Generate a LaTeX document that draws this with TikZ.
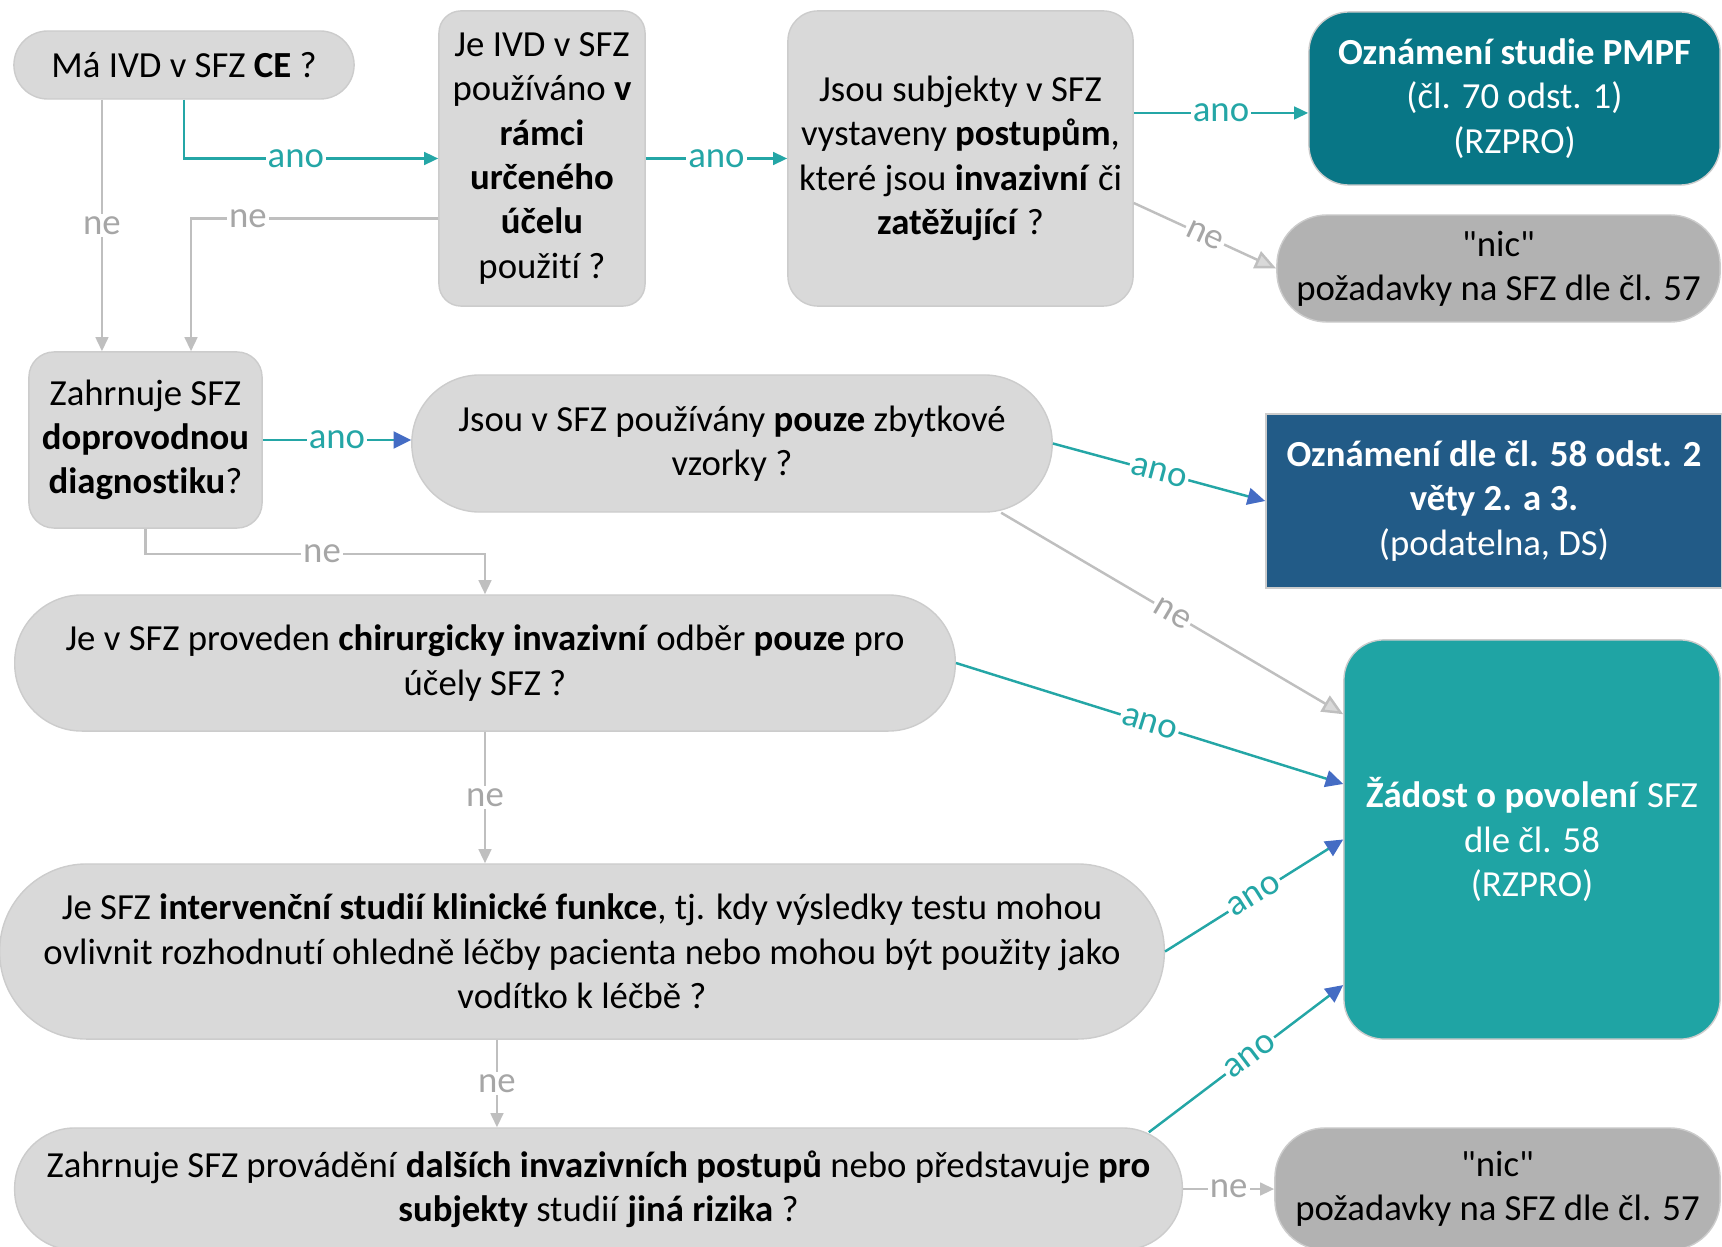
\documentclass[tikz,border=0pt]{standalone}
\usepackage{fontspec}
\setmainfont{Carlito}[Ligatures={TeXOff,NoCommon}]
\usetikzlibrary{positioning,arrows.meta}
\definecolor{qgray}{RGB}{217,217,217}
\definecolor{qline}{RGB}{204,204,204}
\definecolor{nicgray}{RGB}{178,178,178}
\definecolor{pmpf}{RGB}{8,118,134}
\definecolor{notif}{RGB}{34,91,135}
\definecolor{perm}{RGB}{31,164,164}
\definecolor{lteal}{RGB}{36,166,166}
\definecolor{lgray}{RGB}{191,191,191}
\definecolor{ltxtgray}{RGB}{166,166,166}
\definecolor{tipblue}{RGB}{68,108,196}

\begin{document}
\begin{tikzpicture}[x=0.01cm,y=-0.01cm,
  every node/.style={font=\fontsize{10.45}{12.6}\selectfont},
  qnode/.style={draw=qline,fill=qgray,align=center,inner sep=0pt,line width=0.4pt},
  resnode/.style={draw=qline,text=white,align=center,inner sep=0pt,line width=0.4pt},
  nicnode/.style={draw=qline,fill=nicgray,align=center,inner sep=0pt,line width=0.4pt,rounded corners=0.5cm},
  yesedge/.style={draw=lteal,line width=0.7pt,-{Triangle[length=4pt,width=3.6pt]}},
  yesblue/.style={draw=lteal,line width=0.7pt,-{Triangle[length=5pt,width=4.8pt,color=tipblue,fill=tipblue]}},
  noedge/.style={draw=lgray,line width=0.7pt,-{Triangle[length=4pt,width=3.6pt]}},
  noopen/.style={draw=lgray,line width=0.7pt,-{Triangle[length=6pt,width=5.2pt,fill=qgray]}},
  yeslbl/.style={fill=white,text=lteal,inner sep=0.6pt},
  nolbl/.style={fill=white,text=ltxtgray,inner sep=0.6pt}
]
\useasboundingbox (0,0) rectangle (1722,1246);
\clip (0,0) rectangle (1722,1246);

% questions
\node[qnode,rounded corners=0.339cm,minimum width=3.4cm,minimum height=0.68cm] (ce) at (184,65) {Má IVD v SFZ \textbf{CE} ?};
\node[qnode,rounded corners=0.22cm,minimum width=2.06cm,minimum height=2.95cm] (use) at (542,158.5)
  {Je IVD v SFZ\\používáno \textbf{v}\\\textbf{rámci}\\\textbf{určeného}\\\textbf{účelu}\\použití ?};
\node[qnode,rounded corners=0.3cm,minimum width=3.45cm,minimum height=2.95cm] (proc) at (960.5,158.5)
  {Jsou subjekty v SFZ\\vystaveny \textbf{postupům},\\které jsou \textbf{invazivní} či\\\textbf{zatěžující} ?};
\node[qnode,rounded corners=0.25cm,minimum width=2.33cm,minimum height=1.76cm] (cdx) at (145.5,440)
  {Zahrnuje SFZ\\\textbf{doprovodnou}\\\textbf{diagnostiku}?};
\node[qnode,rounded corners=0.68cm,minimum width=6.4cm,minimum height=1.37cm] (rest) at (732,443.5)
  {Jsou v SFZ používány \textbf{pouze} zbytkové\\vzorky ?};
\node[qnode,rounded corners=0.67cm,minimum width=9.4cm,minimum height=1.36cm] (surg) at (485,663)
  {Je v SFZ proveden \textbf{chirurgicky invazivní} odběr \textbf{pouze} pro\\účely SFZ ?};
\node[qnode,rounded corners=0.87cm,minimum width=11.64cm,minimum height=1.75cm] (interv) at (582,951.5)
  {Je SFZ \textbf{intervenční studií klinické funkce}, tj. kdy výsledky testu mohou\\ovlivnit rozhodnutí ohledně léčby pacienta nebo mohou být použity jako\\vodítko k léčbě ?};
\node[qnode,rounded corners=0.6cm,minimum width=11.67cm,minimum height=1.22cm] (risk) at (598.5,1189)
  {Zahrnuje SFZ provádění \textbf{dalších invazivních postupů} nebo představuje \textbf{pro}\\\textbf{subjekty} studií \textbf{jiná rizika} ?};

% results
\node[resnode,fill=pmpf,rounded corners=0.4cm,minimum width=4.11cm,minimum height=1.73cm] (pmpf) at (1514.5,98.5)
  {\textbf{Oznámení studie PMPF}\\(čl. 70 odst. 1)\\(RZPRO)};
\node[nicnode,minimum width=4.43cm,minimum height=1.07cm] (nicA) at (1498.5,268.5) {"nic"\\požadavky na SFZ dle čl. 57};
\node[resnode,fill=notif,minimum width=4.56cm,minimum height=1.74cm] (notif) at (1494,501)
  {\textbf{Oznámení dle čl. 58 odst. 2}\\\textbf{věty 2. a 3.}\\(podatelna, DS)};
\node[resnode,fill=perm,rounded corners=0.4cm,minimum width=3.76cm,minimum height=3.99cm] (perm) at (1532,839.5)
  {\textbf{Žádost o povolení} SFZ\\dle čl. 58\\(RZPRO)};
\node[nicnode,minimum width=4.45cm,minimum height=1.22cm] (nicB) at (1497.5,1189) {"nic"\\požadavky na SFZ dle čl. 57};

% the edges
\draw[yesedge] (ce.south) |- (use.west) node[yeslbl,pos=0.72] {ano};
\draw[noedge] ([xshift=-0.82cm]ce.south) -- ([xshift=-0.82cm]ce.south |- cdx.north) node[nolbl,midway] {ne};
\draw[noedge] ([yshift=-0.6cm]use.west) -| ([xshift=0.455cm]cdx.north) node[nolbl,pos=0.385] {ne};
\draw[yesedge] (use.east) -- (proc.west) node[yeslbl,midway] {ano};
\draw[yesedge] ([yshift=0.455cm]proc.east) -- ([yshift=0.455cm]proc.east -| pmpf.west) node[yeslbl,midway] {ano};
\draw[noopen] ([yshift=-0.445cm]proc.east) -- (nicA.west) node[nolbl,midway,sloped] {ne};
\draw[yesblue] (cdx.east) -- (cdx.east -| rest.west) node[yeslbl,midway] {ano};
\draw[noedge] (cdx.south) -- ++(0,25) -| (surg.north) node[nolbl,pos=0.26] {ne};
\draw[yesblue] (rest.east) -- (notif.west) node[yeslbl,midway,sloped] {ano};
\draw[noopen] ([xshift=2.69cm]rest.south) -- ([yshift=-0.75cm]perm.north west) node[nolbl,midway,sloped] {ne};
\draw[yesblue] (surg.east) -- ([yshift=0.555cm]perm.west) node[yeslbl,midway,sloped] {ano};
\draw[noedge] (surg.south) -- (surg.south |- interv.north) node[nolbl,midway] {ne};
\draw[yesblue] (interv.east) -- (perm.west) node[yeslbl,midway,sloped] {ano};
\draw[noedge] ([xshift=-0.85cm]interv.south) -- ([xshift=-0.85cm]interv.south |- risk.north) node[nolbl,midway] {ne};
\draw[yesblue] ([xshift=5.5cm,yshift=-0.05cm]risk.north) -- ([yshift=-1.455cm]perm.west) node[yeslbl,pos=0.52,sloped] {ano};
\draw[noedge] (risk.east) -- (nicB.west) node[nolbl,midway] {ne};
\end{tikzpicture}
\end{document}
